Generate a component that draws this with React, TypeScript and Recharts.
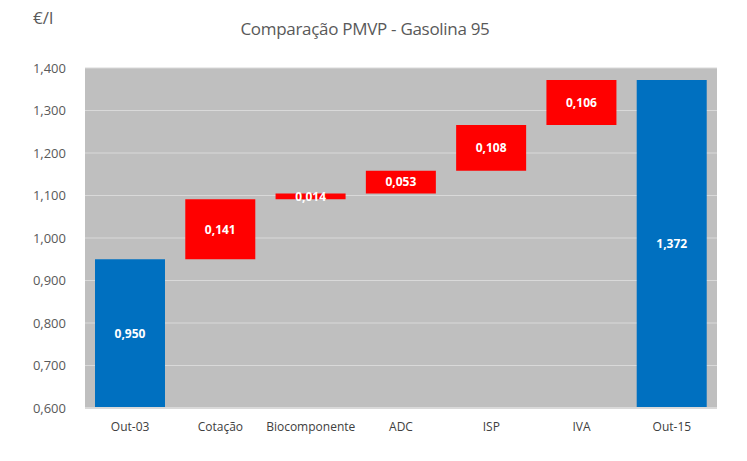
import React from "react";
import { BarChart, Bar, XAxis, YAxis, CartesianGrid, Cell, LabelList } from "recharts";

const categories = ["Out-03", "Cotação", "Biocomponente", "ADC", "ISP", "IVA", "Out-15"];
const deltas = [0.95, 0.141, 0.014, 0.053, 0.108, 0.106, 1.372];
const isTotal = [true, false, false, false, false, false, true];
const yTicks = [0.6, 0.7, 0.8, 0.9, 1.0, 1.1, 1.2, 1.3, 1.4];
const Y_MIN = 0.6;
const Y_MAX = 1.4;

const data = (() => {
  let running = 0;
  return categories.map((name, i) => {
    let low: number;
    let high: number;
    if (isTotal[i]) {
      low = Y_MIN;
      high = deltas[i];
      running = deltas[i];
    } else {
      low = running;
      high = running + deltas[i];
      running = high;
    }
    return { name, range: [low, high], delta: deltas[i], total: isTotal[i] };
  });
})();

const fmt = (v: number) => v.toFixed(3).replace(".", ",");
const FONT = "'Open Sans', 'Noto Sans', sans-serif";

export default function App() {
  return (
    <div style={{ position: "absolute", left: 0, top: 0, width: 747, height: 461, background: "#fff", fontFamily: FONT }}>
      <div style={{ position: "absolute", left: 0, width: 730, top: 17, textAlign: "center", fontSize: 17, color: "#595959", letterSpacing: -0.3 }}>
        Comparação PMVP - Gasolina 95
      </div>
      <div style={{ position: "absolute", left: 33, top: 6, fontSize: 17, color: "#595959" }}>€/l</div>
      <BarChart
        width={747}
        height={461}
        data={data}
        margin={{ top: 68, right: 30, bottom: 23, left: 30 }}
        barSize={70}
      >
        <CartesianGrid vertical={false} stroke="#d9d9d9" fill="#bfbfbf" />
        <XAxis
          dataKey="name"
          axisLine={{ stroke: "#d9d9d9", strokeWidth: 2 }}
          tickLine={false}
          height={30}
          tick={{ fill: "#404040", fontSize: 12, fontFamily: FONT }}
          tickMargin={8}
        />
        <YAxis
          domain={[Y_MIN, Y_MAX]}
          ticks={yTicks}
          allowDataOverflow
          width={55}
          axisLine={false}
          tickLine={false}
          tickFormatter={fmt}
          tickMargin={13}
          tick={{ fill: "#595959", fontSize: 13, fontFamily: FONT }}
        />
        <Bar dataKey="range" isAnimationActive={false}>
          {data.map((d, i) => (
            <Cell key={i} fill={d.total ? "#0070c0" : "#ff0000"} />
          ))}
          <LabelList
            dataKey="delta"
            position="center"
            formatter={(v: any) => fmt(Number(v))}
            fill="#ffffff"
            style={{ fontSize: 12, fontWeight: "bold", fontFamily: FONT }}
          />
        </Bar>
      </BarChart>
    </div>
  );
}
